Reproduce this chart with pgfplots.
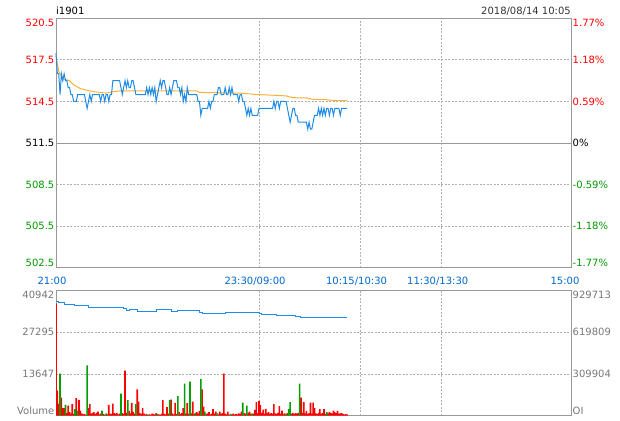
\documentclass[border=0pt]{standalone}
\usepackage{pgfplots}
\pgfplotsset{compat=1.18}
\usepackage{fontspec}
\setmainfont{DejaVu Sans}

\definecolor{pblue}{RGB}{33,140,230}
\definecolor{avgyel}{RGB}{247,178,59}
\definecolor{bred}{RGB}{255,0,0}
\definecolor{bgreen}{RGB}{0,160,0}
\definecolor{lgreen}{RGB}{0,153,0}
\definecolor{tblue}{RGB}{0,102,204}
\definecolor{lgray}{RGB}{120,120,120}
\definecolor{framegray}{RGB}{153,153,153}
\definecolor{gridgray}{RGB}{175,175,175}

% move the first/last tick label inside the panel
\newcommand\up[1]{\raisebox{4.5pt}[7pt][0pt]{#1}}
\newcommand\dn[1]{\raisebox{-4.5pt}[7pt][0pt]{#1}}

\pgfplotsset{
  panel/.style={
    scale only axis, width=515pt, xmin=0, xmax=380.5, anchor=south west,
    axis line style={draw=framegray, line width=0.8pt},
    major tick length=0pt, scaled ticks=false,
    tick label style={font=\fontsize{10}{12}\selectfont},
    yticklabel style={inner sep=1.5pt},
    major grid style={draw=gridgray, dash pattern=on 2pt off 1.5pt, line width=0.8pt},
  },
}

\begin{document}
\begin{tikzpicture}
\path[use as bounding box] (0pt,0pt) rectangle (620pt,420pt);

% ---- price panel
\begin{axis}[panel, at={(56pt,152.3pt)}, height=249.4pt, clip=false,
  ymin=502.5, ymax=520.5,
  ytick={502.5,505.5,508.5,514.5,517.5,520.5},
  yticklabels={\up{\textcolor{lgreen}{502.5}},\textcolor{lgreen}{505.5},\textcolor{lgreen}{508.5},
    \textcolor{bred}{514.5},\textcolor{bred}{517.5},\dn{\textcolor{bred}{520.5}}},
  extra y ticks={511.5}, extra y tick labels={511.5},
  extra y tick style={major grid style={draw=framegray, solid, line width=0.8pt}},
  xtick={0,150,225,285}, xticklabels={21:00,23:30/09:00,10:15/10:30,11:30/13:30},
  extra x ticks={379}, extra x tick labels={15:00}, extra x tick style={grid=none},
  xticklabel style={text=tblue, xshift=-4pt, yshift=-6pt},
  xmajorgrids, ymajorgrids,
]
\addplot[avgyel, line width=1pt] coordinates {
(0,517.94)(1,517.2)(2,516.7)(3,516.5)(5,516.15)(8,516.05)(10,516.0)(13,515.7)(18,515.43)
(23,515.3)(28,515.2)(37,515.1)(42,515.2)(47,515.26)(104,515.26)(106,515.15)(136,515.1)
(148,515.0)(160,514.95)(170,514.9)(175,514.77)(185,514.75)(190,514.65)(200,514.62)
(205,514.57)(215,514.55)};
\addplot[pblue, line width=1pt] coordinates {
(0,518)(1,516.5)(2,516.5)(3,515)(4,516.5)(5,516)(6,516.5)(7,516)(8,516)(9,515.5)(10,515.5)
(11,515)(12,515)(13,514.5)(14,514.5)(15,514.5)(16,515)(17,515)(18,515)(19,515)(20,515)
(21,515)(22,514.5)(23,514)(24,514.5)(25,515)(26,514.5)(27,515)(28,515)(29,515)(30,515)
(31,515)(32,515)(33,514.5)(34,515)(35,515)(36,514.5)(37,515)(38,515)(39,514.5)(40,515)
(41,515)(42,516)(43,516)(44,516)(45,516)(46,516)(47,516)(48,515.5)(49,515)(50,515.5)
(51,516)(52,515.5)(53,516)(54,515.5)(55,515.5)(56,516)(57,516)(58,515.5)(59,515)(60,515)
(61,515)(62,515)(63,515)(64,515)(65,515)(66,515)(67,515.5)(68,515)(69,515.5)(70,515)
(71,515.5)(72,515)(73,515.5)(74,514.5)(75,515)(76,515.5)(77,516)(78,515.5)(79,516)(80,516)
(81,515.5)(82,515)(83,515)(84,515.5)(85,515)(86,515.5)(87,516)(88,516)(89,516)(90,515.5)
(91,515.5)(92,515)(93,515.5)(94,514.5)(95,515)(96,514.5)(97,515.5)(98,515)(99,515)(100,515)
(101,515)(102,515)(103,515)(104,515)(105,514.5)(106,514.5)(107,513.5)(108,514)(109,514)
(110,514)(111,514)(112,514)(113,514.5)(114,514)(115,514.5)(116,514.5)(117,515)(118,515)
(119,515)(120,515.5)(121,515.5)(122,515)(123,515)(124,515)(125,515.5)(126,515)(127,515)
(128,515.5)(129,515)(130,515.5)(131,515)(132,515)(133,515)(134,515)(135,514.5)(136,515)
(137,515)(138,514.5)(139,514.5)(140,514)(141,513.5)(142,514)(143,513.5)(144,514)(145,513.5)
(146,513.5)(147,513.5)(148,513.5)(149,513.5)(150,514)(151,514)(152,514)(153,514)(154,514)
(155,514)(156,514)(157,514)(158,514)(159,514)(160,514)(161,514.5)(162,514)(163,514.5)
(164,514.5)(165,514)(166,514.5)(167,514.5)(168,514.5)(169,514.5)(170,514.5)(171,514)
(172,513.5)(173,513)(174,513.5)(175,514)(176,514)(177,513.5)(178,513.5)(179,513)(180,513)
(181,513)(182,513)(183,513)(184,513)(185,513)(186,512.5)(187,513)(188,512.5)(189,512.5)
(190,513)(191,513.5)(192,513.5)(193,513.5)(194,514)(195,513.5)(196,514)(197,513.5)(198,514)
(199,513.5)(200,514)(201,514)(202,513.5)(203,514)(204,514)(205,513.5)(206,514)(207,514)
(208,514)(209,514)(210,513.5)(211,514)(212,514)(213,514)(214,514)(215,514)};
\node[anchor=base west, inner sep=0pt, font=\fontsize{10}{12}\selectfont, yshift=3.5pt]
  at (rel axis cs:0,1) {i1901};
\node[anchor=base east, inner sep=0pt, font=\fontsize{10}{12}\selectfont, text={rgb,255:red,51;green,51;blue,51}, yshift=3.5pt]
  at (rel axis cs:1,1) {2018/08/14 10:05};
\end{axis}

% ---- percent labels on the right
\begin{axis}[panel, at={(56pt,152.3pt)}, height=249.4pt,
  ymin=502.5, ymax=520.5, axis line style={draw=none}, xtick=\empty,
  yticklabel pos=right,
  ytick={502.5,505.5,508.5,511.5,514.5,517.5,520.5},
  yticklabels={\up{\textcolor{lgreen}{-1.77\%}},\textcolor{lgreen}{-1.18\%},\textcolor{lgreen}{-0.59\%},
    0\%,\textcolor{bred}{0.59\%},\textcolor{bred}{1.18\%},\dn{\textcolor{bred}{1.77\%}}},
]
\end{axis}

% ---- volume panel
\begin{axis}[panel, at={(56pt,4.5pt)}, height=124.8pt,
  ymin=0, ymax=40942,
  ytick={0,13647,27295,40942},
  yticklabels={\up{Volume},13647,27295,\dn{40942}},
  yticklabel style={text=lgray},
  xtick={150,225,285}, xticklabels={},
  xmajorgrids, ymajorgrids,
]
\addplot[ybar, bar width=1.2, fill=bred, draw=none] coordinates {
(0,36733)(1,8175)(2,3815)(4,5886)(5,2400)(6,2398)(8,900)(9,3270)(10,1090)(11,600)(12,3706)
(13,500)(15,5668)(17,5123)(18,1635)(19,700)(20,400)(21,500)(22,300)(24,2398)(25,3706)
(26,600)(27,800)(28,1090)(29,500)(30,900)(31,1308)(32,400)(33,600)(35,500)(36,300)(38,400)
(39,3488)(40,600)(41,500)(42,3924)(43,763)(44,500)(45,900)(46,400)(47,600)(49,763)(50,500)
(51,14715)(52,900)(54,1526)(55,700)(56,4142)(57,1200)(58,600)(60,8611)(61,4578)(62,800)
(63,500)(64,2398)(65,600)(66,300)(67,500)(69,400)(70,300)(71,600)(72,500)(73,300)(74,763)
(76,400)(77,300)(78,600)(79,5014)(80,500)(81,400)(82,2725)(83,600)(85,5232)(86,700)(87,400)
(88,4142)(89,500)(91,1090)(92,500)(93,800)(94,2398)(96,600)(97,4033)(98,500)(100,700)
(101,4578)(102,500)(104,1090)(105,600)(106,1526)(108,8611)(109,2943)(111,500)(112,700)
(113,1090)(114,400)(115,600)(116,2071)(117,500)(118,1308)(120,400)(121,1308)(122,500)
(123,800)(124,13734)(125,600)(126,400)(127,1308)(128,300)(130,400)(131,600)(132,300)
(133,500)(134,400)(135,700)(136,500)(137,1308)(139,800)(140,600)(142,900)(143,1308)
(144,500)(146,600)(147,1853)(148,4360)(149,800)(150,4796)(151,3488)(152,900)(153,1962)
(154,600)(155,2180)(156,700)(157,1090)(158,500)(159,800)(160,600)(161,3706)(162,700)
(163,500)(164,900)(165,3052)(166,600)(167,1635)(168,400)(169,700)(171,800)(174,600)
(175,900)(176,500)(177,763)(178,600)(179,800)(181,5886)(182,900)(183,4360)(184,700)
(185,1526)(186,500)(187,800)(188,4251)(189,600)(190,4251)(191,2398)(192,700)(193,500)
(194,900)(195,2071)(196,600)(197,800)(198,2071)(199,500)(201,700)(202,1200)(203,900)
(204,700)(205,1635)(206,1000)(207,800)(208,1526)(209,600)(210,700)(211,763)(212,500)
(213,300)(214,436)(215,400)};
\addplot[ybar, bar width=1.2, fill=bgreen, draw=none] coordinates {
(3,13734)(7,3488)(14,2071)(16,1635)(23,16459)(34,1635)(37,700)(48,7194)(53,5014)(59,3706)
(68,300)(75,500)(84,5014)(90,6322)(95,10464)(99,11118)(103,900)(107,11990)(110,1308)
(119,700)(129,500)(138,4251)(141,3270)(145,700)(170,500)(172,2180)(173,4360)(180,10464)
(200,1090)};
\end{axis}

% ---- open interest on the right scale
\begin{axis}[panel, at={(56pt,4.5pt)}, height=124.8pt,
  ymin=0, ymax=929713, axis line style={draw=none}, xtick=\empty,
  yticklabel pos=right,
  ytick={0,309904,619809,929713},
  yticklabels={\up{OI},309904,619809,\dn{929713}},
  yticklabel style={text=lgray},
]
\addplot[const plot, pblue, line width=1pt] coordinates {
(0,852000)(2,844500)(3,839400)(6,826900)(14,819300)(24,806800)(50,794200)(52,784100)
(54,791700)(60,776600)(74,786700)(85,776600)(90,784100)(106,769100)(108,759000)
(125,766600)(150,759000)(152,754000)(163,746500)(177,736400)(181,728900)(215,728900)};
\end{axis}
\end{tikzpicture}
\end{document}
